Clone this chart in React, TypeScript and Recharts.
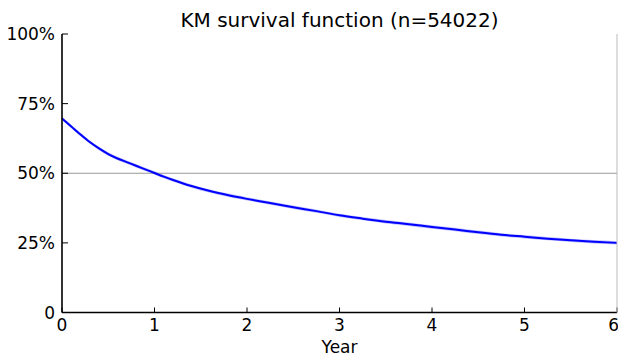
import React from 'react';
import { ComposedChart, Line, Area, XAxis, YAxis, ReferenceLine } from 'recharts';

const years = [0, 0.1, 0.2, 0.3, 0.4, 0.5, 0.6, 0.7, 0.8, 0.9, 1.0, 1.1, 1.2, 1.4, 1.6, 1.8, 2.0, 2.25, 2.5, 2.75, 3.0, 3.25, 3.5, 3.75, 4.0, 4.25, 4.5, 4.75, 5.0, 5.25, 5.5, 5.75, 6.0];
const survival = [0.697, 0.668, 0.639, 0.612, 0.589, 0.569, 0.553, 0.54, 0.527, 0.514, 0.501, 0.488, 0.476, 0.454, 0.436, 0.421, 0.408, 0.393, 0.378, 0.364, 0.349, 0.337, 0.326, 0.317, 0.307, 0.298, 0.288, 0.279, 0.272, 0.265, 0.259, 0.254, 0.25];
const ciHalfWidth = [0.006, 0.006, 0.006, 0.006, 0.006, 0.006, 0.006, 0.006, 0.006, 0.006, 0.006, 0.006, 0.006, 0.006, 0.006, 0.006, 0.006, 0.006, 0.006, 0.006, 0.006, 0.006, 0.006, 0.006, 0.006, 0.006, 0.006, 0.006, 0.006, 0.006, 0.006, 0.006, 0.006];
const xTicks = [0, 1, 2, 3, 4, 5, 6];
const yTicks = [0, 0.25, 0.5, 0.75, 1];
const title = 'KM survival function (n=54022)';
const xLabel = 'Year';

const data = years.map((t, i) => ({
  t,
  s: survival[i],
  ci: [survival[i] - ciHalfWidth[i], survival[i] + ciHalfWidth[i]],
}));

const FONT = 'DejaVu Sans, sans-serif';
const fmtY = (v: number) => (v === 0 ? '0' : `${Math.round(v * 100)}%`);
const empty = () => <g />;

export default function App() {
  return (
    <div style={{ position: 'absolute', left: 0, top: 0, width: 618, height: 357, overflow: 'hidden', background: '#fff', fontFamily: FONT }}>
      <ComposedChart width={618} height={357} data={data} margin={{ top: 34, right: 0, bottom: 0, left: 0 }}>
        <XAxis
          xAxisId="b"
          dataKey="t"
          type="number"
          domain={[0, 6]}
          ticks={xTicks}
          orientation="bottom"
          height={44.5}
          stroke="#000"
          axisLine={{ stroke: '#000', strokeWidth: 1.6 }}
          tickLine={{ stroke: '#000' }}
          tickSize={-5}
          tickMargin={11}
          tick={{ fill: '#000', fontSize: 17, fontFamily: FONT }}
        />
        <XAxis
          xAxisId="t"
          dataKey="t"
          type="number"
          domain={[0, 6]}
          ticks={xTicks}
          orientation="top"
          height={0}
          axisLine={{ stroke: '#000', strokeWidth: 1.6 }}
          tickLine={{ stroke: '#555' }}
          tickSize={-5}
          tick={empty}
        />
        <YAxis
          yAxisId="l"
          type="number"
          domain={[0, 1]}
          ticks={yTicks}
          orientation="left"
          width={62}
          axisLine={{ stroke: '#000', strokeWidth: 1.6 }}
          tickLine={{ stroke: '#000' }}
          tickSize={-6}
          tickMargin={13}
          tickFormatter={fmtY}
          tick={{ fill: '#000', fontSize: 17, fontFamily: FONT }}
        />
        <YAxis
          yAxisId="r"
          type="number"
          domain={[0, 1]}
          ticks={yTicks}
          orientation="right"
          width={1}
          axisLine={{ stroke: '#bbb', strokeWidth: 1 }}
          tickLine={{ stroke: '#000' }}
          tickSize={-6}
          tick={empty}
        />
        <ReferenceLine xAxisId="b" yAxisId="l" y={0.5} stroke="#999" strokeWidth={1.2} />
        <Area
          xAxisId="b"
          yAxisId="l"
          dataKey="ci"
          type="monotone"
          stroke="none"
          fill="#b8b8ff"
          fillOpacity={0.9}
          isAnimationActive={false}
        />
        <Line
          xAxisId="b"
          yAxisId="l"
          dataKey="s"
          type="monotone"
          stroke="#0000ff"
          strokeWidth={2}
          dot={false}
          isAnimationActive={false}
        />
      </ComposedChart>
      <div style={{ position: 'absolute', left: 62, width: 555, top: 10, lineHeight: '20px', fontSize: 20, textAlign: 'center', color: '#000', whiteSpace: 'nowrap' }}>{title}</div>
      <div style={{ position: 'absolute', left: 62, width: 555, top: 340, lineHeight: '15px', fontSize: 17, textAlign: 'center', color: '#000' }}>{xLabel}</div>
    </div>
  );
}
